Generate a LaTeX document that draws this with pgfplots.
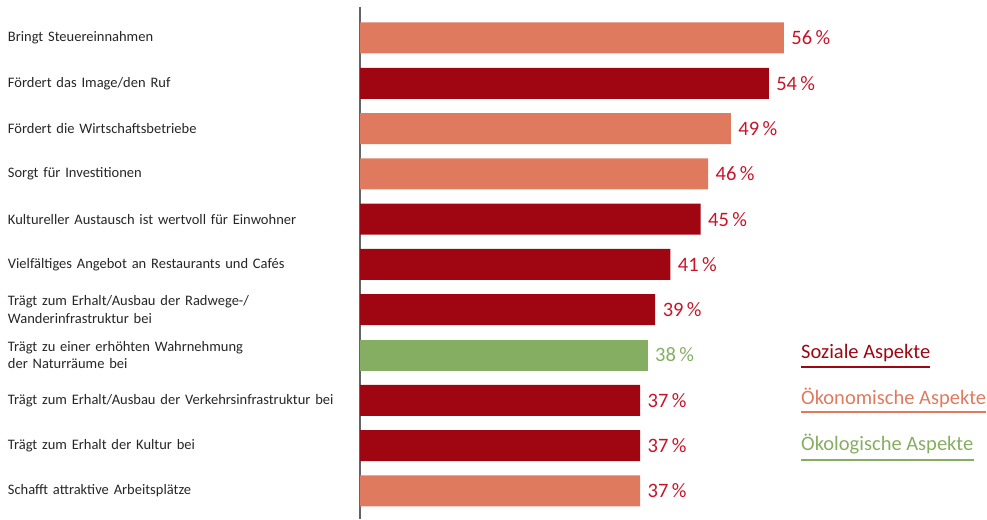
\documentclass[border=0pt]{standalone}
\usepackage{fontspec}
\setmainfont{Carlito}
\usepackage{pgfplots}
\pgfplotsset{compat=1.18}

\definecolor{sozial}{RGB}{160,6,18}
\definecolor{oekon}{RGB}{224,122,95}
\definecolor{oekol}{RGB}{134,174,98}
\definecolor{valred}{RGB}{200,20,40}
\definecolor{axgray}{RGB}{100,100,100}

\begin{document}
\begin{tikzpicture}[x=1pt,y=1pt]
\useasboundingbox (0,0) rectangle (987,519);
\begin{axis}[
  at={(360pt,0pt)}, anchor=south west,
  scale only axis,
  width=627pt, height=512pt,
  xmin=0, xmax=82.83,
  ymin=-0.684, ymax=10.62,
  y dir=reverse,
  xbar, bar width=31pt, bar shift=0pt,
  axis x line=none,
  axis y line*=left,
  y axis line style={draw=axgray, line width=1.5pt},
  ytick={0,...,10},
  ytick style={draw=none},
  yticklabels={
    Bringt Steuereinnahmen,
    Fördert das Image/den Ruf,
    Fördert die Wirtschaftsbetriebe,
    Sorgt für Investitionen,
    Kultureller Austausch ist wertvoll für Einwohner,
    Vielfältiges Angebot an Restaurants und Cafés,
    {Trägt zum Erhalt/Ausbau der Radwege-/\\Wanderinfrastruktur bei},
    {Trägt zu einer erhöhten Wahrnehmung\\der Naturräume bei},
    Trägt zum Erhalt/Ausbau der Verkehrsinfrastruktur bei,
    Trägt zum Erhalt der Kultur bei,
    Schafft attraktive Arbeitsplätze},
  yticklabel style={anchor=west, xshift=-348pt, inner sep=0pt,
    align=left, text width=345pt,
    font=\fontsize{14.5}{17.5}\selectfont, text=black!85},
  /pgf/number format/assume math mode=true,
  nodes near coords={\pgfmathprintnumber{\pgfplotspointmeta}\,\%},
  point meta=explicit,
  nodes near coords style={anchor=west, xshift=4pt,
    font=\fontsize{20.5}{22}\selectfont},
  clip=false,
]
% economic aspects
\addplot[fill=oekon, draw=none, nodes near coords style={text=valred}]
  coordinates {(56,0)[56] (49,2)[49] (46,3)[46] (37,10)[37]};
% social aspects
\addplot[fill=sozial, draw=none, nodes near coords style={text=valred}]
  coordinates {(54,1)[54] (45,4)[45] (41,5)[41] (39,6)[39] (37,8)[37] (37,9)[37]};
% ecological aspects
\addplot[fill=oekol, draw=none, nodes near coords style={text=oekol}]
  coordinates {(38,7)[38]};
\end{axis}

% category key
\begin{scope}[font=\fontsize{20.5}{22}\selectfont]
\node[anchor=base west, inner sep=0pt, text=sozial] (s) at (801,160) {Soziale Aspekte};
\draw[sozial, line width=2.6pt] (801,152) -- (s.east |- 0,152);
\node[anchor=base west, inner sep=0pt, text=oekon] (k) at (801,114) {Ökonomische Aspekte};
\draw[oekon, line width=2.6pt] (801,107) -- (k.east |- 0,107);
\node[anchor=base west, inner sep=0pt, text=oekol] (g) at (801,68) {Ökologische Aspekte};
\draw[oekol, line width=2.6pt] (801,59) -- (g.east |- 0,59);
\end{scope}
\end{tikzpicture}
\end{document}
